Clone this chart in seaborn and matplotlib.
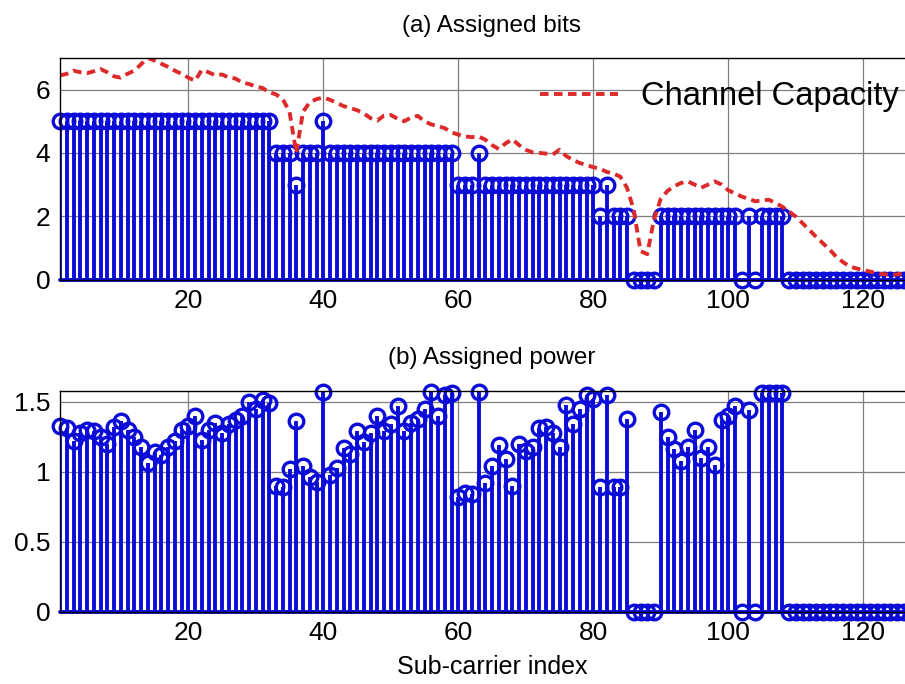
import matplotlib

matplotlib.use("Agg")
import matplotlib.pyplot as plt
import numpy as np
import seaborn as sns

# sub-carrier indices 1..128
subcarriers = np.arange(1, 129)

assigned_bits = [
    5, 5, 5, 5, 5, 5, 5, 5, 5, 5, 5, 5, 5, 5, 5, 5,
    5, 5, 5, 5, 5, 5, 5, 5, 5, 5, 5, 5, 5, 5, 5, 5,
    4, 4, 4, 3, 4, 4, 4, 5, 4, 4, 4, 4, 4, 4, 4, 4,
    4, 4, 4, 4, 4, 4, 4, 4, 4, 4, 4, 3, 3, 3, 4, 3,
    3, 3, 3, 3, 3, 3, 3, 3, 3, 3, 3, 3, 3, 3, 3, 3,
    2, 3, 2, 2, 2, 0, 0, 0, 0, 2, 2, 2, 2, 2, 2, 2,
    2, 2, 2, 2, 2, 0, 2, 0, 2, 2, 2, 2, 0, 0, 0, 0,
    0, 0, 0, 0, 0, 0, 0, 0, 0, 0, 0, 0, 0, 0, 0, 0,
]

channel_capacity = [
    6.45, 6.50, 6.60, 6.55, 6.52, 6.58, 6.65, 6.55, 6.42, 6.38, 6.50, 6.60, 6.80, 7.00, 6.92, 6.82,
    6.72, 6.60, 6.50, 6.38, 6.28, 6.62, 6.55, 6.45, 6.48, 6.38, 6.35, 6.22, 6.18, 6.10, 6.05, 5.92,
    5.85, 5.70, 5.30, 4.00, 5.30, 5.60, 5.70, 5.75, 5.68, 5.58, 5.48, 5.42, 5.35, 5.25, 5.10, 5.02,
    5.18, 5.20, 5.08, 5.00, 5.12, 5.17, 5.00, 4.90, 4.85, 4.78, 4.65, 4.58, 4.52, 4.50, 4.52, 4.42,
    4.25, 4.12, 4.30, 4.43, 4.25, 4.10, 4.02, 4.00, 3.98, 3.95, 4.10, 3.90, 3.78, 3.68, 3.62, 3.55,
    3.50, 3.40, 3.35, 3.25, 2.90, 2.20, 0.90, 0.80, 1.90, 2.55, 2.80, 2.95, 3.05, 3.10, 3.00, 2.90,
    3.00, 3.10, 3.00, 2.82, 2.72, 2.62, 2.55, 2.47, 2.50, 2.52, 2.42, 2.30, 2.15, 1.99, 1.78, 1.57,
    1.35, 1.15, 0.95, 0.72, 0.55, 0.41, 0.35, 0.30, 0.25, 0.20, 0.17, 0.14, 0.16, 0.20, 0.17, 0.15,
]

assigned_power = [
    1.33, 1.31, 1.22, 1.28, 1.30, 1.29, 1.25, 1.20, 1.32, 1.36, 1.30, 1.25, 1.18, 1.06, 1.14, 1.12,
    1.18, 1.22, 1.30, 1.33, 1.40, 1.23, 1.30, 1.35, 1.28, 1.34, 1.37, 1.40, 1.50, 1.45, 1.51, 1.49,
    0.90, 0.89, 1.02, 1.36, 1.04, 0.96, 0.93, 1.57, 0.98, 1.03, 1.17, 1.13, 1.29, 1.21, 1.28, 1.40,
    1.29, 1.34, 1.47, 1.29, 1.35, 1.38, 1.45, 1.57, 1.40, 1.55, 1.56, 0.82, 0.85, 0.84, 1.57, 0.92,
    1.04, 1.19, 1.09, 0.90, 1.20, 1.15, 1.18, 1.31, 1.32, 1.28, 1.18, 1.48, 1.34, 1.45, 1.55, 1.52,
    0.89, 1.55, 0.89, 0.89, 1.38, 0.00, 0.00, 0.00, 0.00, 1.43, 1.25, 1.16, 1.08, 1.18, 1.30, 1.10,
    1.18, 1.05, 1.37, 1.40, 1.47, 0.00, 1.44, 0.00, 1.56, 1.56, 1.56, 1.56, 0.00, 0.00, 0.00, 0.00,
    0.00, 0.00, 0.00, 0.00, 0.00, 0.00, 0.00, 0.00, 0.00, 0.00, 0.00, 0.00, 0.00, 0.00, 0.00, 0.00,
]

x_ticks = [20, 40, 60, 80, 100, 120]
bits_ticks = [0, 2, 4, 6]
power_ticks = [0, 0.5, 1, 1.5]
power_tick_labels = ["0", "0.5", "1", "1.5"]

STEM_BLUE = "#0c0cd8"
CAPACITY_RED = "#dc2a2a"

sns.set_theme(style="whitegrid")
plt.rcParams["font.family"] = ["Liberation Sans", "DejaVu Sans"]
plt.rcParams["text.color"] = "black"
plt.rcParams["axes.labelcolor"] = "black"


def draw_stems(ax, values):
    markerline, stemlines, baseline = ax.stem(subcarriers, values, linefmt="-", markerfmt="o", basefmt="-")
    stemlines.set_color(STEM_BLUE)
    stemlines.set_linewidth(2.8)
    baseline.set_color(STEM_BLUE)
    baseline.set_linewidth(2.8)
    markerline.set_color(STEM_BLUE)
    markerline.set_markerfacecolor("none")
    markerline.set_markersize(10.5)
    markerline.set_markeredgewidth(2.4)
    markerline.set_clip_on(False)
    baseline.set_clip_on(False)


def style_axes(ax):
    ax.set_xlim(1, 129)
    ax.set_xticks(x_ticks)
    ax.grid(True, color="#7f7f7f", linewidth=0.9)
    ax.set_axisbelow(True)
    for spine in ax.spines.values():
        spine.set_color("black")
        spine.set_linewidth(1.0)
    ax.tick_params(axis="both", labelsize=19, colors="black", direction="in", length=4, pad=7)


fig = plt.figure(figsize=(9.05, 6.84), dpi=100)
ax_bits = fig.add_axes([60 / 905, 1 - 279.5 / 684, 864 / 905, 221.5 / 684])
ax_power = fig.add_axes([60 / 905, 1 - 611.7 / 684, 864 / 905, 221 / 684])

# (a) assigned bits with channel capacity
draw_stems(ax_bits, assigned_bits)
sns.lineplot(
    x=subcarriers,
    y=channel_capacity,
    ax=ax_bits,
    color=CAPACITY_RED,
    linewidth=2.8,
    linestyle=(0, (2.2, 1.4)),
    label="Channel Capacity",
)
style_axes(ax_bits)
ax_bits.set_ylim(0, 7)
ax_bits.set_yticks(bits_ticks)
ax_bits.set_title("(a) Assigned bits", fontsize=17.5, pad=19)
ax_bits.legend(
    loc="center left",
    bbox_to_anchor=(540 / 905, 1 - 97 / 684),
    bbox_transform=fig.transFigure,
    frameon=False,
    fontsize=23.5,
    handlelength=2.4,
    handletextpad=0.7,
    borderaxespad=0,
    borderpad=0,
)

# (b) assigned power
draw_stems(ax_power, assigned_power)
style_axes(ax_power)
ax_power.set_ylim(0, 1.58)
ax_power.set_yticks(power_ticks)
ax_power.set_yticklabels(power_tick_labels)
ax_power.set_title("(b) Assigned power", fontsize=17.5, pad=19)
ax_power.set_xlabel("Sub-carrier index", fontsize=18, labelpad=7)

fig.savefig("out.png", dpi=100)
plt.close(fig)
